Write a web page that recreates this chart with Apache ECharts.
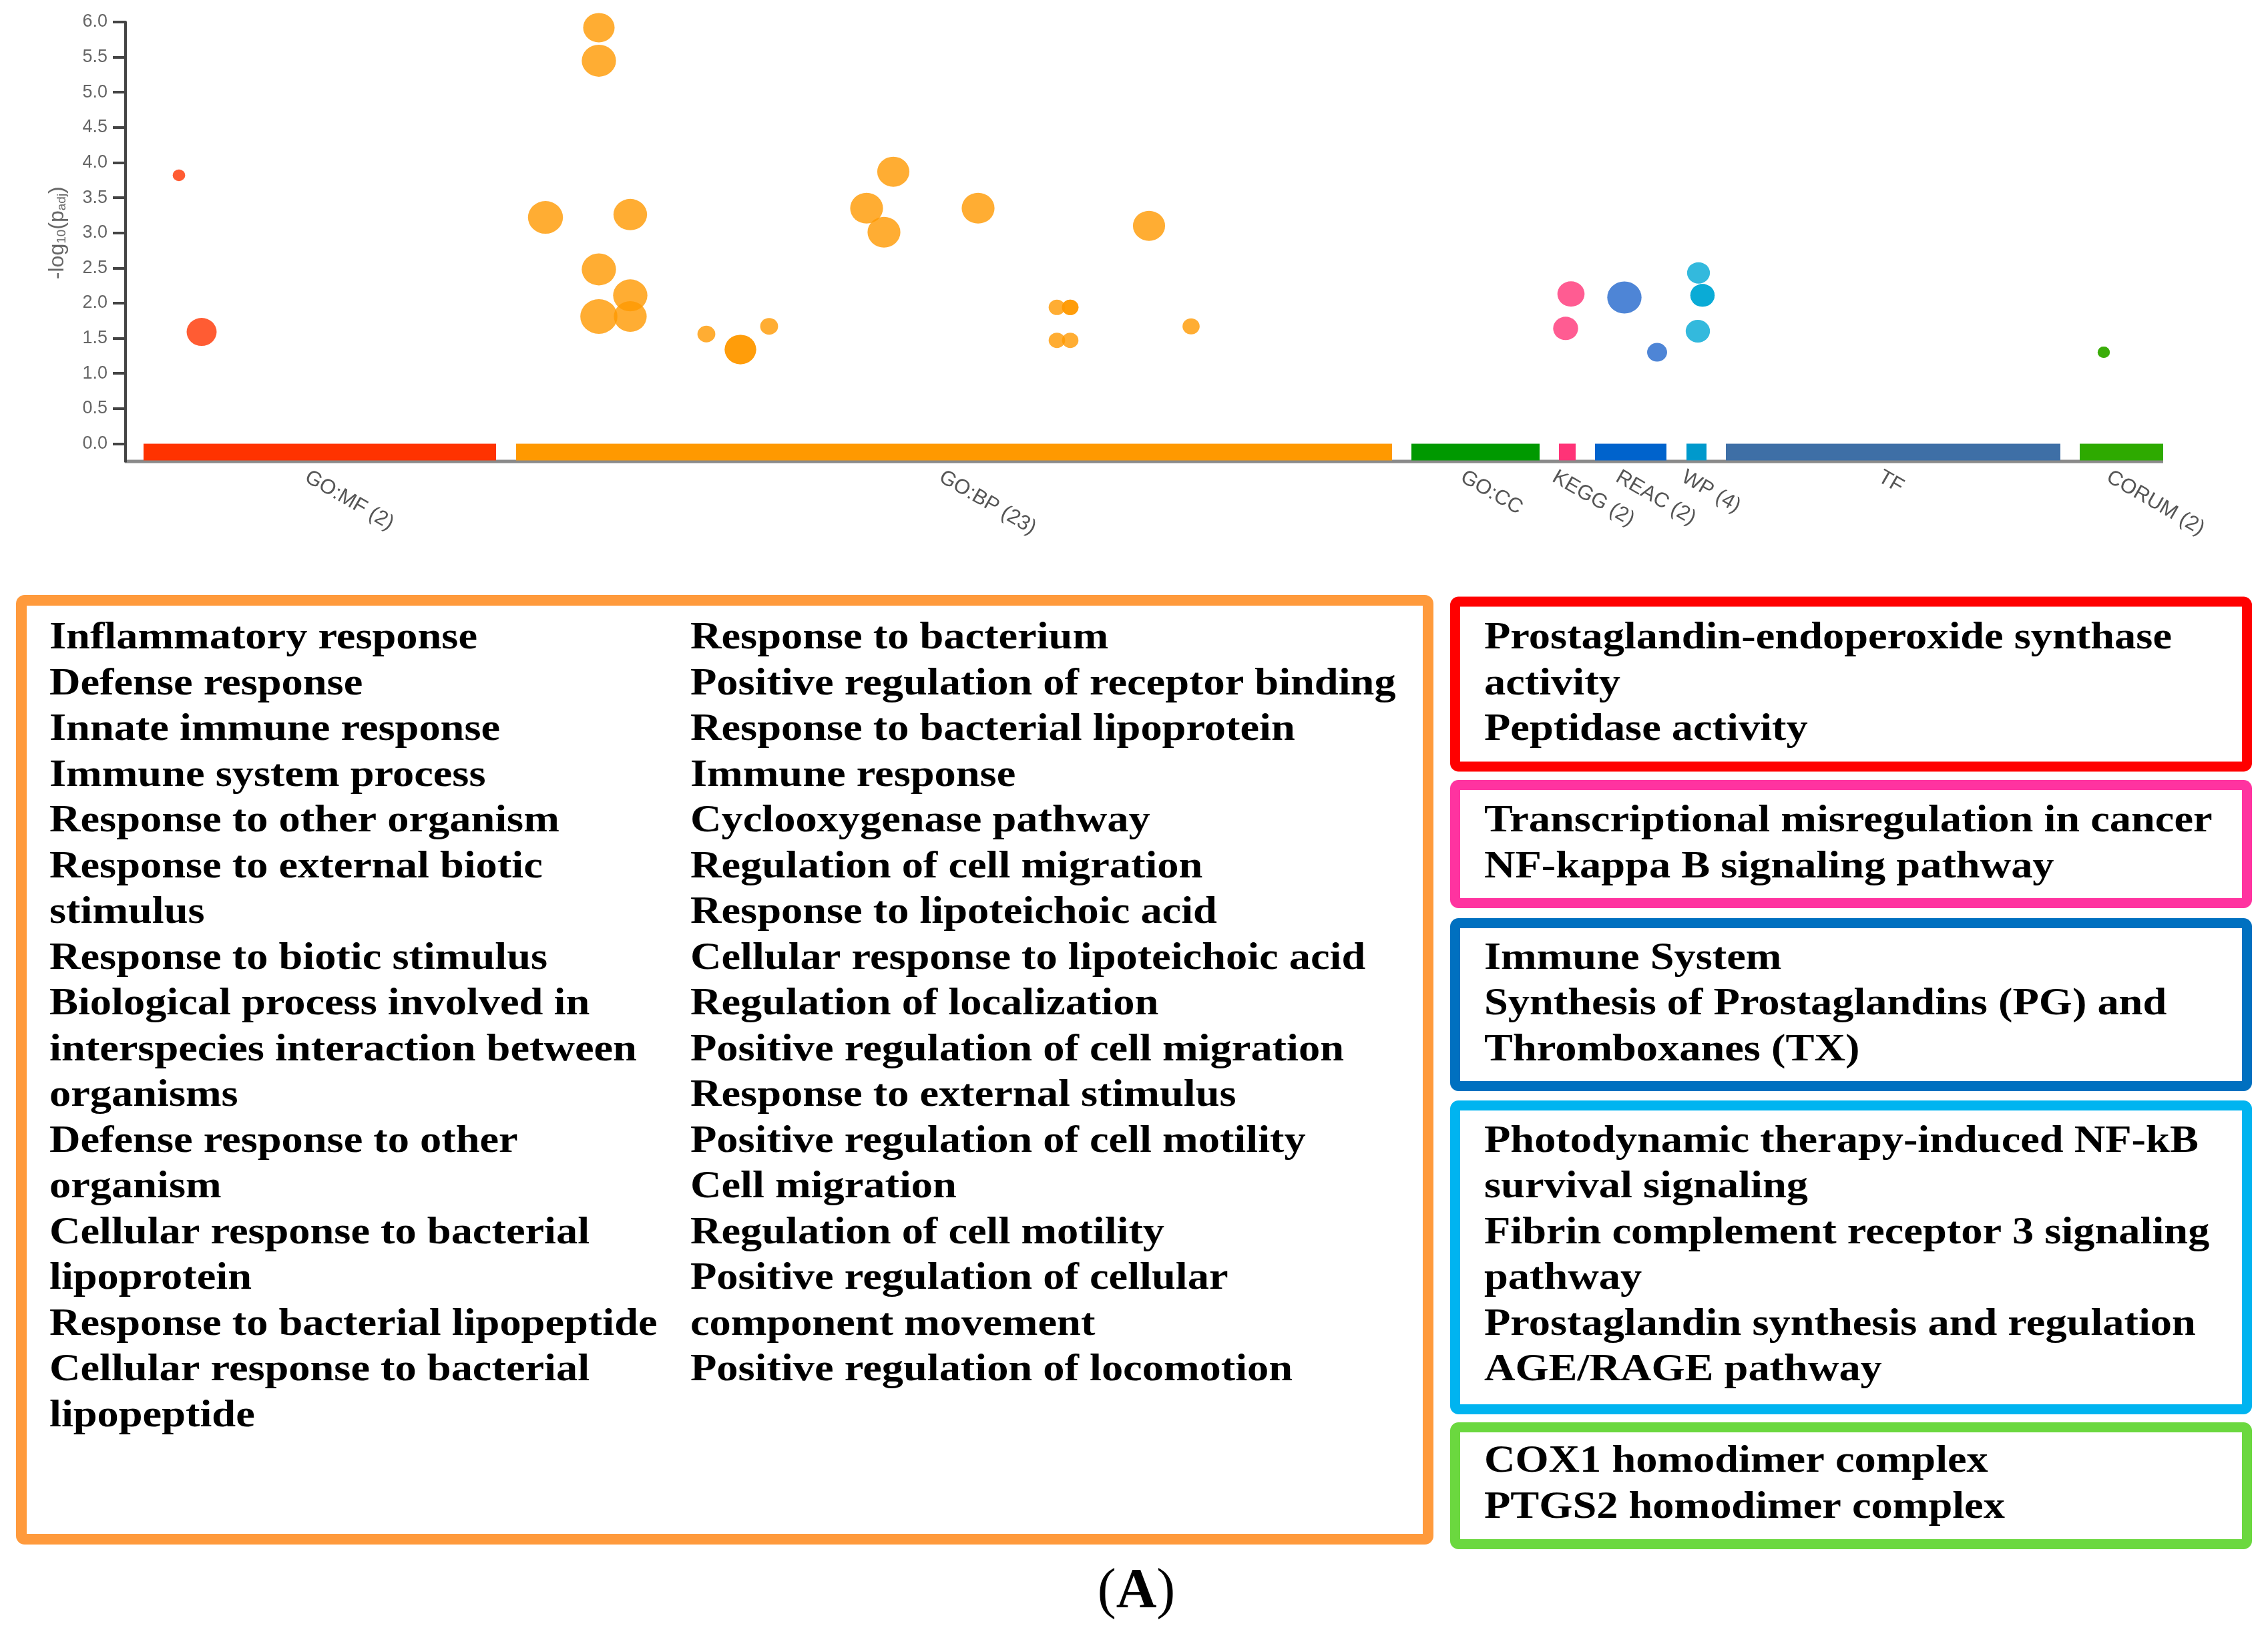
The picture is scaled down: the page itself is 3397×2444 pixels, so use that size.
<!DOCTYPE html>
<html><head><meta charset="utf-8">
<script src="https://cdn.jsdelivr.net/npm/echarts@6.0.0/dist/echarts.min.js"></script>
<style>html,body{margin:0;padding:0;background:#fff}#chart{width:3397px;height:2444px}</style>
</head><body><div id="chart"></div>
<script>
// ---------- DATA ----------
const sources = ['GO:MF (2)', 'GO:BP (23)', 'GO:CC', 'KEGG (2)', 'REAC (2)', 'WP (4)', 'TF', 'CORUM (2)'];
const sourceStart = [27, 585, 1926, 2147, 2201, 2338, 2397, 2927];
const sourceEnd   = [555, 1897, 2118, 2172, 2308, 2368, 2898, 3052];
const axisExtent = [0, 3052];
const yTicks = [0, 6, 0.5]; // min, max, interval

// [position, -log10(padj), term size]
const mfPoints = [[80, 3.82, 17.5], [114, 1.59, 42]];
const bpPoints = [[709,5.92,44],[709,5.45,48],[629,3.22,49],[756,3.26,47],[709,2.48,48],[756,2.11,48],
  [709,1.81,52],[756,1.81,46],[870,1.56,25],[921,1.34,44],[921,1.34,44],[964,1.67,25],[1150,3.87,45],
  [1110,3.35,46],[1136,3.01,46],[1277,3.35,46],[1533,3.10,45],[1395,1.94,23],[1415,1.94,23],[1415,1.94,23],
  [1395,1.47,23],[1415,1.47,23],[1596,1.67,24]];
const ccPoints = [];
const keggPoints = [[2165,2.13,38],[2157,1.64,35]];
const reacPoints = [[2245,2.08,48],[2294,1.30,28]];
const wpPoints = [[2356,2.43,32],[2362,2.11,34],[2362,2.11,34],[2355,1.60,34]];
const tfPoints = [];
const corumPoints = [[2963,1.30,17],[2963,1.30,17]];

const colBP1 = ['Inflammatory response','Defense response','Innate immune response','Immune system process',
  'Response to other organism','Response to external biotic','stimulus','Response to biotic stimulus',
  'Biological process involved in','interspecies interaction between','organisms','Defense response to other',
  'organism','Cellular response to bacterial','lipoprotein','Response to bacterial lipopeptide',
  'Cellular response to bacterial','lipopeptide'];
const colBP2 = ['Response to bacterium','Positive regulation of receptor binding','Response to bacterial lipoprotein',
  'Immune response','Cyclooxygenase pathway','Regulation of cell migration','Response to lipoteichoic acid',
  'Cellular response to lipoteichoic acid','Regulation of localization','Positive regulation of cell migration',
  'Response to external stimulus','Positive regulation of cell motility','Cell migration',
  'Regulation of cell motility','Positive regulation of cellular','component movement',
  'Positive regulation of locomotion'];
const mfTerms = ['Prostaglandin-endoperoxide synthase','activity','Peptidase activity'];
const keggTerms = ['Transcriptional misregulation in cancer','NF-kappa B signaling pathway'];
const reacTerms = ['Immune System','Synthesis of Prostaglandins (PG) and','Thromboxanes (TX)'];
const wpTerms = ['Photodynamic therapy-induced NF-kB','survival signaling','Fibrin complement receptor 3 signaling',
  'pathway','Prostaglandin synthesis and regulation','AGE/RAGE pathway'];
const corumTerms = ['COX1 homodimer complex','PTGS2 homodimer complex'];
const panelLabel = 'A';

// ---------- STYLE ----------
const barColors = ['#ff3300','#ff9900','#009900','#ff3377','#0063cc','#0099cc','#3e6fa6','#2eaa00'];
const dotColors = ['#ff3300','#ff9900','#009900','#ff3377','#2266cc','#00a8d4','#3e6fa6','#33aa00'];
const pointSets = [mfPoints, bpPoints, ccPoints, keggPoints, reacPoints, wpPoints, tfPoints, corumPoints];
const SERIF = '"Liberation Serif","Times New Roman",serif';
const TFONT = 'bold 56px ' + SERIF;
const LINE0 = 974, LSTEP = 68.5, FS = 56;

function lines(arr, x, k0) {
  return arr.map((t, i) => ({
    type: 'text', x: x, y: LINE0 + LSTEP * (k0 + i) - 0.305 * FS, scaleX: 1.15, z: 10,
    style: { text: t, font: TFONT, fill: '#000', textAlign: 'left', textVerticalAlign: 'middle' }
  }));
}
function box(x, y, w, h, color, lw) {
  return { type: 'rect', shape: { x: x, y: y, width: w, height: h, r: 5 }, z: 5,
    style: { fill: 'none', stroke: color, lineWidth: lw } };
}

const graphics = [
  box(32, 899, 2107, 1406, '#ff9a3c', 16),
  box(2179.5, 901, 1186, 247, '#ff0000', 15),
  box(2179.5, 1175.5, 1186, 177, '#ff33a0', 15),
  box(2179.5, 1382.5, 1186, 244, '#0070c0', 15),
  box(2179.5, 1655.5, 1186, 455, '#00b4f0', 15),
  box(2179.5, 2137.5, 1186, 175, '#6bd83f', 15),
  ...lines(colBP1, 74, 0),
  ...lines(colBP2, 1034, 0),
  ...lines(mfTerms, 2223, 0),
  ...lines(keggTerms, 2223, 4),
  ...lines(reacTerms, 2223, 7),
  ...lines(wpTerms, 2223, 11),
  ...lines(corumTerms, 2223, 18),
  { type: 'text', x: 1702, y: 2385, z: 10,
    style: { text: '{n|(}{b|' + panelLabel + '}{n|)}', textAlign: 'center', textVerticalAlign: 'middle', fill: '#000',
      rich: { n: { font: '84px ' + SERIF, fill: '#000' }, b: { font: 'bold 84px ' + SERIF, fill: '#000' } } } }
];

const chart = echarts.init(document.getElementById('chart'), null, { renderer: 'canvas' });

const scatterSeries = pointSets.map((pts, i) => ({
  type: 'scatter', name: sources[i], data: pts, z: 5,
  symbolSize: v => [v[2] * 1.07, v[2]],
  itemStyle: { color: dotColors[i], opacity: 0.8 },
  emphasis: { disabled: true }
}));

chart.setOption({
  animation: false,
  backgroundColor: '#fff',
  grid: { left: 188, top: 33, width: 3052, height: 631.4, containLabel: false },
  xAxis: { type: 'value', min: axisExtent[0], max: axisExtent[1], show: false },
  yAxis: {
    type: 'value', min: yTicks[0], max: yTicks[1], interval: yTicks[2],
    axisLine: { show: true, lineStyle: { color: '#444', width: 4 } },
    axisTick: { show: true, length: 19, lineStyle: { color: '#444', width: 4 } },
    axisLabel: { fontSize: 27, color: '#666', fontFamily: 'Liberation Sans', margin: 27,
      formatter: v => v.toFixed(1) },
    splitLine: { show: false },
    name: '-log{s|10}(p{s|adj})', nameLocation: 'middle', nameRotate: 90, nameGap: 86,
    nameTextStyle: { color: '#666', fontSize: 32, fontFamily: 'Liberation Sans',
      rich: { s: { fontSize: 19, color: '#666', fontFamily: 'Liberation Sans', verticalAlign: 'bottom' } } }
  },
  series: [
    {
      type: 'custom', z: 1, silent: true,
      data: [[axisExtent[0], axisExtent[1]]],
      encode: { x: [0, 1] },
      renderItem: (params, api) => {
        const p0 = api.coord([api.value(0), 0]);
        const p1 = api.coord([api.value(1), 0]);
        return { type: 'group', children: [
          { type: 'line', shape: { x1: p0[0] - 1, y1: p0[1] + 26.5, x2: p1[0], y2: p1[1] + 26.5 },
            style: { stroke: '#8a8a8a', lineWidth: 5 } },
          { type: 'line', shape: { x1: p0[0], y1: p0[1], x2: p0[0], y2: p0[1] + 28 },
            style: { stroke: '#444', lineWidth: 4 } }
        ] };
      }
    },
    {
      type: 'custom', z: 2, silent: true,
      data: sources.map((s, i) => [sourceStart[i], sourceEnd[i], i]),
      encode: { x: [0, 1] },
      renderItem: (params, api) => {
        const i = api.value(2);
        const p0 = api.coord([api.value(0), 0]);
        const p1 = api.coord([api.value(1), 0]);
        const cx = (p0[0] + p1[0]) / 2;
        return { type: 'group', children: [
          { type: 'rect', shape: { x: p0[0], y: p0[1], width: p1[0] - p0[0], height: 25 },
            style: { fill: barColors[i] } },
          { type: 'text', x: cx - 20, y: p0[1] + 48, rotation: -Math.PI / 6,
            style: { text: sources[i], fill: '#555', font: '31px "Liberation Sans"',
              textAlign: 'left', textVerticalAlign: 'middle' } }
        ] };
      }
    },
    ...scatterSeries
  ],
  graphic: { elements: graphics }
});
</script></body></html>
